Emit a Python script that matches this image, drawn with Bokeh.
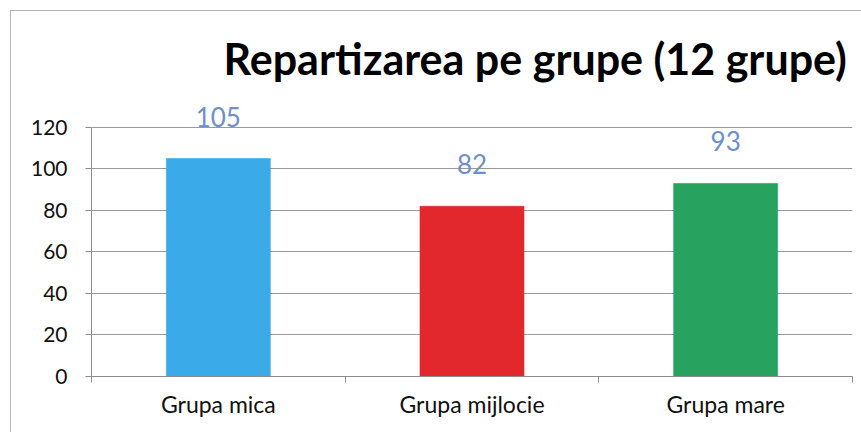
from bokeh.plotting import figure
from bokeh.models import (Range1d, FixedTicker, ColumnDataSource, Label, Title)
from bokeh.embed import file_html
from bokeh.resources import INLINE

categories = ["Grupa mica", "Grupa mijlocie", "Grupa mare"]
values = [105, 82, 93]
colors = ["#3aaae8", "#e2282c", "#28a25f"]
y_ticks = [0, 20, 40, 60, 80, 100, 120]
title_text = "Repartizarea pe grupe (12 grupe)"

FONT = "Lato"

n = len(categories)
centers = [i + 0.5 for i in range(n)]
edges = list(range(n + 1))

src = ColumnDataSource(dict(x=centers, cat=categories, val=values, color=colors))

p = figure(x_range=Range1d(0, n), y_range=Range1d(0, 132),
           width=851, height=422, output_backend="svg", toolbar_location=None,
           min_border_left=80, min_border_right=10,
           min_border_top=89, min_border_bottom=57, margin=(10, 0, 0, 10))
p.styles = {"border-top": "1px solid #b5b5b5", "border-left": "1px solid #b5b5b5"}
p.outline_line_color = None
p.background_fill_color = "white"
p.border_fill_color = "white"

p.vbar(x="x", top="val", width=0.41, fill_color="color", line_color="color",
       line_alpha=0.6, source=src)

# gridlines
p.xgrid.grid_line_color = None
p.ygrid.grid_line_color = "#9a9a9a"
p.ygrid.grid_line_width = 1
p.ygrid.ticker = FixedTicker(ticks=y_ticks)

# y axis
ya = p.yaxis[0]
ya.ticker = FixedTicker(ticks=y_ticks)
ya.bounds = (0, 120)
ya.axis_line_color = "#8c8c8c"
ya.major_tick_line_color = "#8c8c8c"
ya.major_tick_out = 6
ya.major_tick_in = 0
ya.minor_tick_line_color = None
ya.major_label_text_font = FONT
ya.major_label_text_font_size = "21px"
ya.major_label_text_color = "#111111"
ya.major_label_standoff = 18

# x axis: labels at category centres, ticks at category boundaries
xa = p.xaxis[0]
xa.ticker = FixedTicker(ticks=centers, minor_ticks=edges)
xa.major_label_overrides = {c: name for c, name in zip(centers, categories)}
xa.major_tick_line_color = None
xa.major_tick_out = 0
xa.major_tick_in = 0
xa.minor_tick_line_color = "#8c8c8c"
xa.minor_tick_out = 6
xa.minor_tick_in = 0
xa.axis_line_color = "#8c8c8c"
xa.major_label_text_font = FONT
xa.major_label_text_font_size = "23px"
xa.major_label_text_color = "#111111"
xa.major_label_standoff = 7

# data labels
for xc, v in zip(centers, values):
    p.add_layout(Label(x=xc, y=v, text=str(v), y_offset=42,
                       text_align="center", text_baseline="middle",
                       text_font=FONT, text_font_size="26px",
                       text_color="#6d8fcb"))

# title
t = Title(text=title_text, text_font=FONT, text_font_size="43px",
          text_font_style="bold", text_color="#000000", align="left",
          standoff=38, offset=132)
p.add_layout(t, "above")

open("out.html", "w").write(file_html(p, INLINE))
